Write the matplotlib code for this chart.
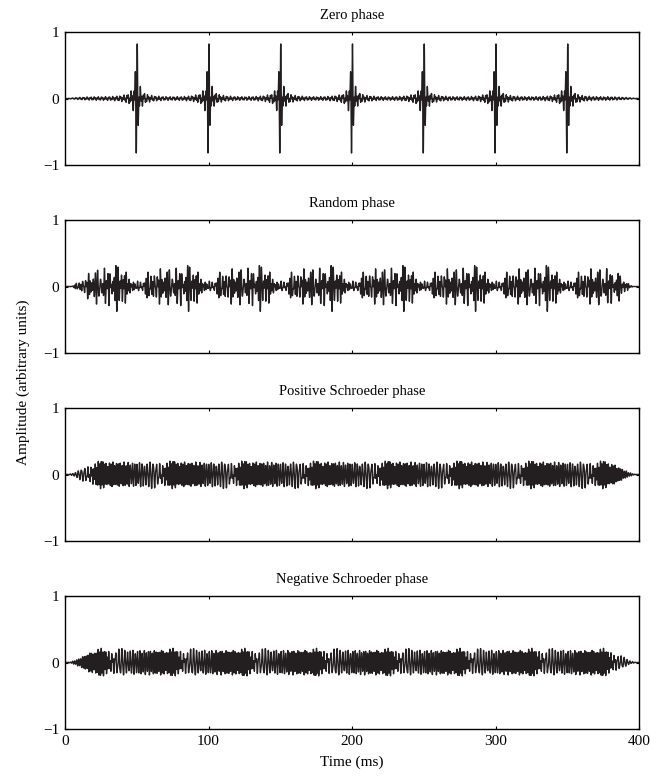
import numpy as np
import matplotlib.pyplot as plt

# stimulus parameters (harmonic complex, 20 Hz fundamental)
fs = 20000
f0 = 20.0
duration_ms = 400
ramp_ms = 25
zero_peak = 0.82
harmonics = np.arange(20, 51)
random_phases = [2.31, 5.87, 0.44, 3.92, 1.68, 4.75, 6.02, 0.97, 2.89, 5.14,
                 3.37, 1.12, 4.46, 0.21, 5.63, 2.58, 3.81, 6.19, 1.49, 4.07,
                 0.73, 5.36, 2.04, 3.58, 4.91, 1.85, 0.36, 5.98, 2.72, 3.15,
                 4.62]

titles = ['Zero phase', 'Random phase', 'Positive Schroeder phase', 'Negative Schroeder phase']
xticks = [0, 100, 200, 300, 400]
yticks = [-1, 0, 1]
ytick_labels = ['\u22121', '0', '1']


def complex_tone(t, phases):
    sig = np.zeros_like(t)
    for n, ph in zip(harmonics, phases):
        sig += np.sin(2 * np.pi * n * f0 * t + ph)
    return sig


def ramp(t):
    r = ramp_ms / 1000.0
    end = duration_ms / 1000.0
    env = np.ones_like(t)
    on = t < r
    env[on] = np.sin(np.pi / 2 * t[on] / r) ** 2
    off = t > end - r
    env[off] = np.sin(np.pi / 2 * (end - t[off]) / r) ** 2
    return env


t = np.arange(0, duration_ms / 1000.0 + 1 / fs, 1 / fs)
N = len(harmonics)
schroeder = np.pi * harmonics * (harmonics + 1) / N
phase_sets = [np.zeros(N), np.array(random_phases), schroeder, -schroeder]

env = ramp(t)
waves = [complex_tone(t, p) * env for p in phase_sets]
scale = zero_peak / np.abs(waves[0]).max()
waves = [w * scale for w in waves]

plt.rcParams['font.family'] = ['Liberation Serif', 'DejaVu Serif']
plt.rcParams['font.size'] = 11

fig = plt.figure(figsize=(6.65, 7.78), dpi=100)
W, H = 665.0, 778.0
left, width, h = 65 / W, 574 / W, 133
tops = [32, 220, 408, 596]

for i, (title, w) in enumerate(zip(titles, waves)):
    ax = fig.add_axes([left, 1 - (tops[i] + h) / H, width, h / H])
    ax.plot(t * 1000, w, color='#231f20', lw=1.0)
    ax.set_xlim(0, 400)
    ax.set_ylim(-1, 1)
    ax.set_xticks(xticks)
    ax.set_yticks(yticks)
    ax.set_yticklabels(ytick_labels)
    ax.tick_params(direction='in', top=True, right=True, length=2.5, width=0.8, pad=4)
    for s in ax.spines.values():
        s.set_linewidth(1.0)
    ax.set_title(title, fontsize=10.5, pad=9.5)
    if i < 3:
        ax.set_xticklabels([])
    else:
        ax.set_xlabel('Time (ms)', labelpad=6)

fig.text(0.035, 1 - 382 / H, 'Amplitude (arbitrary units)', rotation=90,
         ha='center', va='center', fontsize=11)

plt.savefig('out.png', dpi=100)
